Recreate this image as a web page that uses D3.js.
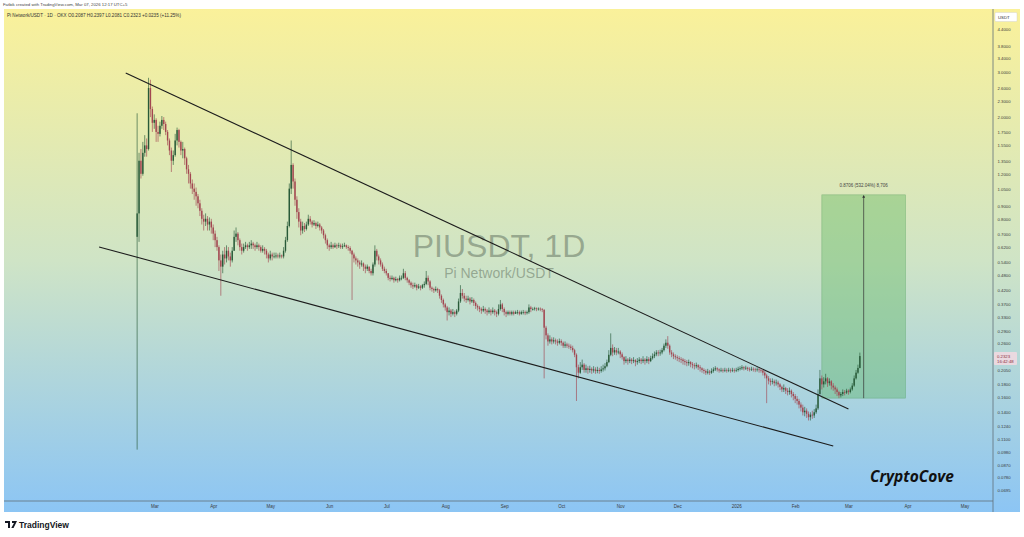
<!DOCTYPE html>
<html lang="en">
<head>
<meta charset="utf-8">
<title>PIUSDT, 1D</title>
<script src="https://d3js.org/d3.v7.min.js"></script>
<style>
  body { margin: 0; background: #fff; }
  svg { display: block; font-family: "Liberation Sans", Arial, sans-serif; }
</style>
</head>
<body>
<script>
// daily candles from listing day, one value per day (open = previous close)
var startDay = "2025-02-20";
var firstOpen = 0.68;

var closes = [
  0.84,1.35,1.2,1.45,1.55,1.5,2.6,2.15,1.9,
  1.95,1.75,1.72,1.85,1.95,1.88,1.75,1.62,1.48,1.35,1.42,1.62,1.78,1.6,1.48,1.5,1.38,1.25,1.2,1.1,1.05,1.02,0.98,0.92,0.86,0.8,0.78,0.8,0.76,0.78,0.74,
  0.7,0.66,0.62,0.55,0.52,0.58,0.56,0.6,0.57,0.55,0.6,0.68,0.7,0.66,0.62,0.6,0.62,0.63,0.62,0.63,0.64,0.63,0.62,0.63,0.62,0.6,0.61,0.6,0.58,0.56,
  0.58,0.57,0.57,0.575,0.57,0.575,0.57,0.6,0.66,0.75,1.05,1.3,1.12,0.95,0.85,0.78,0.72,0.75,0.73,0.76,0.8,0.78,0.76,0.77,0.75,0.76,0.74,0.72,0.69,0.66,0.63,
  0.62,0.63,0.62,0.63,0.625,0.63,0.62,0.625,0.63,0.62,0.615,0.6,0.58,0.56,0.55,0.54,0.53,0.535,0.52,0.51,0.52,0.5,0.49,0.53,0.6,0.57,0.55,0.53,0.51,0.5,
  0.49,0.47,0.465,0.47,0.46,0.465,0.46,0.47,0.47,0.49,0.47,0.46,0.45,0.44,0.435,0.44,0.43,0.435,0.43,0.44,0.445,0.47,0.455,0.43,0.425,0.42,0.425,0.42,0.4,0.385,0.37,
  0.36,0.345,0.35,0.34,0.345,0.34,0.35,0.38,0.41,0.4,0.39,0.385,0.39,0.38,0.385,0.375,0.365,0.36,0.355,0.35,0.355,0.35,0.345,0.35,0.345,0.35,0.345,0.34,0.355,0.37,0.355,
  0.345,0.34,0.345,0.34,0.345,0.34,0.345,0.345,0.34,0.345,0.345,0.342,0.345,0.36,0.355,0.355,0.357,0.355,0.356,0.354,0.352,0.3,0.28,0.265,0.27,0.265,0.268,0.265,0.262,0.266,
  0.262,0.255,0.258,0.255,0.253,0.25,0.245,0.235,0.21,0.2,0.21,0.215,0.205,0.208,0.205,0.207,0.204,0.206,0.203,0.205,0.203,0.206,0.208,0.212,0.22,0.235,0.25,0.24,0.245,0.24,0.242,
  0.236,0.23,0.222,0.225,0.222,0.225,0.222,0.224,0.22,0.222,0.225,0.222,0.225,0.222,0.226,0.222,0.228,0.232,0.236,0.24,0.238,0.24,0.245,0.255,0.262,0.255,0.24,0.236,0.232,0.23,
  0.228,0.226,0.225,0.222,0.22,0.218,0.22,0.216,0.214,0.212,0.214,0.21,0.208,0.205,0.203,0.2,0.202,0.2,0.203,0.206,0.208,0.206,0.204,0.205,0.204,0.205,0.204,0.205,0.204,0.205,0.204,
  0.205,0.207,0.208,0.21,0.208,0.209,0.207,0.206,0.207,0.206,0.205,0.206,0.205,0.204,0.2,0.195,0.19,0.186,0.184,0.185,0.182,0.183,0.18,0.176,0.172,0.174,0.17,0.168,0.17,0.165,0.162,
  0.158,0.155,0.15,0.146,0.14,0.142,0.138,0.134,0.137,0.136,0.14,0.145,0.165,0.19,0.18,0.185,0.19,0.182,0.185,0.178,0.175,0.172,0.168,0.163,0.165,0.168,0.167,0.17,
  0.168,0.172,0.178,0.19,0.2,0.2087,0.2323
];

var highs = [
  2.07,1.45,1.5,1.6,1.7,1.65,2.85,2.8,2.2,
  2.05,1.98,1.85,1.92,2.02,2.0,1.92,1.78,1.65,1.52,1.48,1.72,1.82,1.8,1.62,1.6,1.52,1.4,1.3,1.22,1.14,1.1,1.06,1.0,0.95,0.88,0.83,0.84,0.82,0.81,0.8,
  0.76,0.72,0.68,0.63,0.58,0.6,0.62,0.63,0.62,0.59,0.62,0.72,0.74,0.71,0.67,0.64,0.64,0.65,0.64,0.65,0.66,0.65,0.64,0.65,0.64,0.63,0.63,0.62,0.61,0.59,
  0.6,0.59,0.59,0.59,0.585,0.59,0.58,0.62,0.68,0.78,1.1,1.62,1.32,1.15,0.98,0.88,0.8,0.78,0.77,0.78,0.83,0.82,0.79,0.79,0.78,0.78,0.77,0.75,0.73,0.7,0.67,
  0.64,0.65,0.64,0.645,0.64,0.645,0.64,0.64,0.645,0.635,0.63,0.625,0.605,0.59,0.57,0.56,0.55,0.55,0.54,0.53,0.53,0.52,0.51,0.54,0.63,0.61,0.58,0.56,0.54,0.52,
  0.51,0.49,0.48,0.48,0.475,0.475,0.47,0.48,0.48,0.51,0.5,0.475,0.465,0.455,0.45,0.45,0.445,0.445,0.44,0.445,0.455,0.5,0.48,0.46,0.435,0.43,0.435,0.43,0.425,0.405,0.39,
  0.375,0.365,0.36,0.355,0.355,0.35,0.355,0.39,0.44,0.425,0.41,0.4,0.4,0.395,0.395,0.39,0.38,0.37,0.365,0.36,0.365,0.36,0.355,0.36,0.355,0.36,0.355,0.35,0.37,0.385,0.375,
  0.36,0.35,0.35,0.35,0.35,0.35,0.35,0.352,0.35,0.35,0.352,0.35,0.35,0.37,0.365,0.36,0.362,0.36,0.36,0.36,0.358,0.355,0.305,0.285,0.28,0.275,0.275,0.272,0.27,0.272,
  0.27,0.265,0.265,0.262,0.26,0.258,0.255,0.248,0.238,0.215,0.22,0.225,0.218,0.215,0.212,0.213,0.21,0.212,0.21,0.211,0.209,0.212,0.215,0.218,0.225,0.245,0.285,0.258,0.252,0.25,0.25,
  0.245,0.24,0.232,0.232,0.228,0.23,0.228,0.23,0.226,0.228,0.23,0.228,0.232,0.228,0.232,0.23,0.233,0.238,0.242,0.245,0.245,0.246,0.25,0.26,0.27,0.278,0.258,0.245,0.24,0.236,
  0.234,0.232,0.23,0.228,0.226,0.224,0.225,0.222,0.22,0.218,0.219,0.216,0.214,0.21,0.208,0.206,0.207,0.205,0.208,0.21,0.212,0.21,0.208,0.209,0.208,0.209,0.208,0.209,0.208,0.209,0.208,
  0.209,0.211,0.212,0.214,0.212,0.213,0.211,0.21,0.211,0.21,0.209,0.21,0.209,0.208,0.206,0.203,0.198,0.194,0.19,0.19,0.188,0.188,0.186,0.182,0.178,0.18,0.176,0.174,0.175,0.172,0.168,
  0.165,0.162,0.158,0.153,0.15,0.147,0.145,0.141,0.14,0.142,0.144,0.15,0.172,0.205,0.195,0.192,0.198,0.192,0.19,0.187,0.182,0.178,0.175,0.17,0.168,0.172,0.171,0.173,
  0.172,0.175,0.182,0.195,0.205,0.215,0.2397
];

var lows = [
  0.1,0.65,1.15,1.18,1.4,1.4,1.48,2.0,1.75,
  1.8,1.6,1.6,1.68,1.8,1.78,1.7,1.55,1.42,1.22,1.3,1.4,1.55,1.52,1.42,1.38,1.3,1.2,1.1,1.05,1.0,0.95,0.9,0.88,0.82,0.76,0.72,0.75,0.72,0.72,0.7,
  0.66,0.62,0.6,0.5,0.4,0.49,0.53,0.54,0.55,0.52,0.54,0.6,0.65,0.63,0.6,0.58,0.59,0.61,0.6,0.61,0.61,0.61,0.6,0.61,0.6,0.59,0.59,0.58,0.56,0.54,
  0.55,0.55,0.56,0.56,0.56,0.56,0.56,0.56,0.59,0.65,0.74,1.0,1.05,0.9,0.8,0.74,0.69,0.7,0.71,0.72,0.75,0.76,0.74,0.75,0.73,0.74,0.72,0.7,0.67,0.64,0.61,
  0.6,0.61,0.61,0.615,0.61,0.615,0.61,0.61,0.62,0.61,0.6,0.585,0.385,0.54,0.53,0.52,0.51,0.52,0.5,0.49,0.5,0.49,0.48,0.48,0.52,0.55,0.53,0.52,0.5,0.49,
  0.48,0.46,0.455,0.46,0.45,0.455,0.45,0.455,0.46,0.465,0.46,0.45,0.44,0.43,0.425,0.43,0.42,0.425,0.42,0.425,0.43,0.44,0.44,0.42,0.415,0.41,0.415,0.41,0.39,0.375,0.36,
  0.35,0.32,0.335,0.33,0.335,0.33,0.335,0.345,0.375,0.39,0.38,0.375,0.38,0.37,0.375,0.365,0.355,0.35,0.345,0.34,0.345,0.34,0.335,0.34,0.335,0.34,0.335,0.33,0.335,0.35,0.345,
  0.335,0.33,0.335,0.335,0.335,0.335,0.34,0.338,0.335,0.337,0.338,0.336,0.338,0.34,0.345,0.35,0.35,0.348,0.35,0.348,0.345,0.19,0.27,0.255,0.26,0.258,0.26,0.258,0.255,0.258,
  0.255,0.25,0.25,0.25,0.248,0.245,0.24,0.23,0.155,0.19,0.198,0.205,0.2,0.2,0.198,0.2,0.198,0.2,0.198,0.199,0.198,0.2,0.202,0.204,0.21,0.218,0.232,0.232,0.235,0.234,0.236,
  0.228,0.225,0.215,0.218,0.215,0.218,0.216,0.218,0.212,0.215,0.218,0.216,0.218,0.215,0.218,0.216,0.22,0.225,0.228,0.232,0.232,0.233,0.236,0.242,0.25,0.248,0.235,0.23,0.226,0.225,
  0.222,0.22,0.218,0.215,0.214,0.212,0.213,0.21,0.208,0.206,0.208,0.205,0.202,0.2,0.198,0.196,0.197,0.196,0.198,0.2,0.203,0.202,0.2,0.201,0.2,0.201,0.2,0.201,0.2,0.201,0.2,
  0.201,0.202,0.204,0.205,0.204,0.205,0.203,0.202,0.203,0.202,0.201,0.202,0.2,0.2,0.195,0.19,0.152,0.18,0.178,0.18,0.177,0.178,0.175,0.171,0.168,0.168,0.165,0.163,0.164,0.16,0.156,
  0.152,0.15,0.145,0.141,0.136,0.135,0.133,0.13,0.13,0.132,0.133,0.138,0.143,0.162,0.172,0.175,0.18,0.176,0.178,0.172,0.17,0.165,0.162,0.159,0.16,0.162,0.163,0.165,
  0.164,0.166,0.17,0.176,0.188,0.198,0.2081
];

var priceTicks = [4.4, 3.8, 3.4, 3.0, 2.6, 2.3, 2.0, 1.75, 1.55, 1.35, 1.2, 1.05, 0.9, 0.8, 0.7, 0.62,
  0.54, 0.48, 0.42, 0.37, 0.33, 0.29, 0.26, 0.205, 0.18, 0.16, 0.14, 0.124, 0.11, 0.098, 0.087, 0.078, 0.0695];
var monthTicks = ["2025-03-01","2025-04-01","2025-05-01","2025-06-01","2025-07-01","2025-08-01","2025-09-01",
  "2025-10-01","2025-11-01","2025-12-01","2026-01-01","2026-02-01","2026-03-01","2026-04-01","2026-05-01"];

// drawn trend lines (date, price)
var upperLine = [["2025-02-14", 2.975], ["2026-03-01", 0.1442]];
var lowerLine = [["2025-01-31", 0.621], ["2026-02-21", 0.1033]];
// long position / measure box
var boxDates = ["2026-02-15", "2026-03-31"];
var boxPrices = [0.159, 0.993];
var arrowDate = "2026-03-09";
var lastPrice = 0.2323;

var W = 1024, H = 537;
var parseDay = d3.utcParse("%Y-%m-%d");

var x = d3.scaleUtc()
    .domain([parseDay("2024-12-12"), parseDay("2026-05-16")])
    .range([4, 993]);
var y = d3.scaleLog()
    .domain([0.0695, 4.4])
    .range([490, 29.6]);

var svg = d3.select("body").append("svg")
    .attr("width", W)
    .attr("height", H);

var defs = svg.append("defs");
var grad = defs.append("linearGradient")
    .attr("id", "bg")
    .attr("x1", 0).attr("y1", 0).attr("x2", 0).attr("y2", 1);
grad.append("stop").attr("offset", "0%").attr("stop-color", "#faf19a");
grad.append("stop").attr("offset", "50%").attr("stop-color", "#cfe4c6");
grad.append("stop").attr("offset", "100%").attr("stop-color", "#8cc5f4");

defs.append("clipPath").attr("id", "plot")
  .append("rect").attr("x", 4).attr("y", 9).attr("width", 989).attr("height", 492);

defs.append("marker")
    .attr("id", "arrow")
    .attr("viewBox", "0 0 6 6")
    .attr("refX", 3).attr("refY", 3)
    .attr("markerWidth", 4).attr("markerHeight", 4)
    .attr("orient", "auto-start-reverse")
  .append("path")
    .attr("d", "M0,0 L6,3 L0,6 z")
    .attr("fill", "#333");

// background panels
svg.append("rect")
    .attr("x", 4).attr("y", 9).attr("width", 1016).attr("height", 503)
    .attr("fill", "url(#bg)");
svg.append("line")
    .attr("x1", 993).attr("x2", 993).attr("y1", 9).attr("y2", 512)
    .attr("stroke", "#5f6f78").attr("stroke-width", 0.8);
svg.append("line")
    .attr("x1", 4).attr("x2", 993).attr("y1", 501).attr("y2", 501)
    .attr("stroke", "#5f6f78").attr("stroke-width", 0.8);

// header
svg.append("text")
    .attr("x", 3).attr("y", 5.5)
    .attr("font-size", 4.3).attr("fill", "#444")
    .text("Fatbik created with TradingView.com, Mar 07, 2026 12:17 UTC+5");
svg.append("text")
    .attr("x", 7).attr("y", 16.5)
    .attr("font-size", 4.6).attr("fill", "#333")
    .text("Pi Network/USDT \u00b7 1D \u00b7 OKX   O0.2087  H0.2397  L0.2081  C0.2323  +0.0235 (+11.25%)");

var plot = svg.append("g").attr("clip-path", "url(#plot)");

// watermark
plot.append("text")
    .attr("x", 499).attr("y", 257)
    .attr("text-anchor", "middle")
    .attr("font-size", 32)
    .attr("fill", "#6f7f6c").attr("fill-opacity", 0.6)
    .text("PIUSDT, 1D");
plot.append("text")
    .attr("x", 499).attr("y", 278)
    .attr("text-anchor", "middle")
    .attr("font-size", 14)
    .attr("fill", "#6f7f6c").attr("fill-opacity", 0.6)
    .text("Pi Network/USDT");

// measure box
var bx0 = x(parseDay(boxDates[0])), bx1 = x(parseDay(boxDates[1]));
var by0 = y(boxPrices[1]), by1 = y(boxPrices[0]);
plot.append("rect")
    .attr("x", bx0).attr("y", by0)
    .attr("width", bx1 - bx0).attr("height", by1 - by0)
    .attr("fill", "#4caf50").attr("fill-opacity", 0.35)
    .attr("stroke", "#4c9a55").attr("stroke-opacity", 0.5).attr("stroke-width", 0.6);
var ax = x(parseDay(arrowDate));
plot.append("line")
    .attr("x1", ax).attr("x2", ax)
    .attr("y1", by1).attr("y2", by0 + 1.5)
    .attr("stroke", "#333").attr("stroke-width", 0.7)
    .attr("marker-end", "url(#arrow)");
svg.append("text")
    .attr("x", ax).attr("y", by0 - 8)
    .attr("text-anchor", "middle")
    .attr("font-size", 4.5).attr("fill", "#444")
    .text("0.8706 (532.04%) 8,706");

// candles
var t0 = parseDay(startDay);
var candles = closes.map(function (c, i) {
    var o = i === 0 ? firstOpen : closes[i - 1];
    return {
        date: d3.utcDay.offset(t0, i),
        open: o,
        close: c,
        high: Math.max(highs[i], o, c),
        low: Math.min(lows[i], o, c)
    };
});

var upColor = "#285a38", downColor = "#a24650";
var cg = plot.append("g");
var candle = cg.selectAll("g.candle")
    .data(candles)
    .enter().append("g")
    .attr("class", "candle");
candle.append("line")
    .attr("x1", function (d) { return x(d.date); })
    .attr("x2", function (d) { return x(d.date); })
    .attr("y1", function (d) { return y(d.high); })
    .attr("y2", function (d) { return y(d.low); })
    .attr("stroke", function (d) { return d.close >= d.open ? upColor : downColor; })
    .attr("stroke-opacity", 0.8)
    .attr("stroke-width", 0.8);
candle.append("rect")
    .attr("x", function (d) { return x(d.date) - 0.7; })
    .attr("width", 1.4)
    .attr("y", function (d) { return y(Math.max(d.open, d.close)); })
    .attr("height", function (d) { return Math.max(0.7, Math.abs(y(d.open) - y(d.close))); })
    .attr("fill", function (d) { return d.close >= d.open ? upColor : downColor; });

// trend lines
[upperLine, lowerLine].forEach(function (ln) {
    plot.append("line")
        .attr("x1", x(parseDay(ln[0][0]))).attr("y1", y(ln[0][1]))
        .attr("x2", x(parseDay(ln[1][0]))).attr("y2", y(ln[1][1]))
        .attr("stroke", "#1c1c1c").attr("stroke-width", 1.1);
});

// price axis
var yAxis = svg.append("g")
    .attr("transform", "translate(996,0)")
    .call(d3.axisRight(y).tickValues(priceTicks).tickSize(0).tickFormat(d3.format(".4f")));
yAxis.select(".domain").remove();
yAxis.selectAll("text")
    .attr("x", 1.5)
    .attr("font-size", 4.3)
    .attr("font-family", "Liberation Sans, Arial, sans-serif")
    .attr("fill", "#3a3a3a");

// currency tag
svg.append("rect")
    .attr("x", 995).attr("y", 12.5).attr("width", 22).attr("height", 9)
    .attr("fill", "#fff").attr("stroke", "#ccc").attr("stroke-width", 0.4).attr("rx", 1);
svg.append("text")
    .attr("x", 998).attr("y", 18.5)
    .attr("font-size", 4.3).attr("fill", "#333")
    .text("USDT");

// last price tag
var ly = y(lastPrice);
svg.append("rect")
    .attr("x", 994).attr("y", ly - 4).attr("width", 23).attr("height", 13)
    .attr("fill", "#ead9e0").attr("rx", 1);
svg.append("text")
    .attr("x", 997).attr("y", ly + 1.5)
    .attr("font-size", 4.3).attr("fill", "#8a2f3c")
    .text(d3.format(".4f")(lastPrice));
svg.append("text")
    .attr("x", 997).attr("y", ly + 7)
    .attr("font-size", 4.3).attr("fill", "#8a2f3c")
    .text("16:42:48");

// time axis
var xAxis = svg.append("g")
    .attr("transform", "translate(0,503)")
    .call(d3.axisBottom(x)
        .tickValues(monthTicks.map(parseDay))
        .tickSize(0)
        .tickFormat(function (d) {
            return d.getUTCMonth() === 0 ? String(d.getUTCFullYear()) : d3.utcFormat("%b")(d);
        }));
xAxis.select(".domain").remove();
xAxis.selectAll("text")
    .attr("y", 2)
    .attr("font-size", 4.5)
    .attr("font-family", "Liberation Sans, Arial, sans-serif")
    .attr("fill", "#3a3a3a");

// signature
svg.append("text")
    .attr("x", 870).attr("y", 482)
    .attr("font-family", "Open Sans, sans-serif")
    .attr("font-style", "italic")
    .attr("font-weight", 700)
    .attr("font-size", 15.5)
    .attr("fill", "#111")
    .text("CryptoCove");

// footer logo
var logo = svg.append("g").attr("transform", "translate(5,521)");
logo.append("path")
    .attr("d", "M0,0 H5 V7 H3 V2 H0 Z M7,0 H12 L8.5,7 H6.3 L9,2 H7 Z")
    .attr("fill", "#131722");
svg.append("text")
    .attr("x", 19).attr("y", 527.5)
    .attr("font-size", 8.5).attr("font-weight", 700)
    .attr("fill", "#131722")
    .text("TradingView");
</script>
</body>
</html>
